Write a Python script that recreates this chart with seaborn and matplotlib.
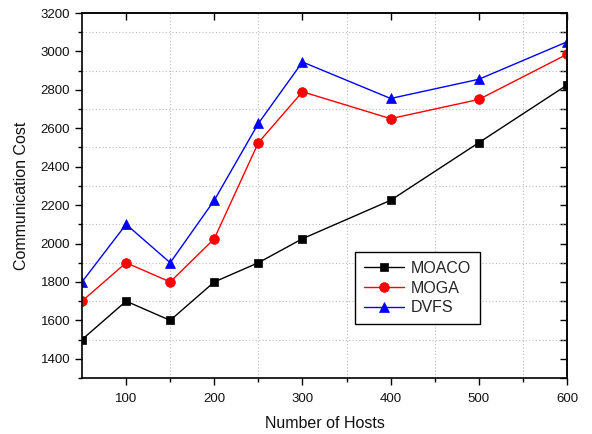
import matplotlib
matplotlib.use("Agg")
import matplotlib.pyplot as plt
from matplotlib.ticker import FixedLocator
import seaborn as sns

# Communication cost versus number of hosts for three schedulers
hosts = [50, 100, 150, 200, 250, 300, 400, 500, 600]
moaco = [1500, 1700, 1600, 1800, 1900, 2025, 2225, 2525, 2825]
moga = [1700, 1900, 1800, 2025, 2525, 2790, 2650, 2750, 2985]
dvfs = [1800, 2100, 1900, 2225, 2625, 2945, 2755, 2855, 3050]

series_names = ["MOACO", "MOGA", "DVFS"]
series_values = [moaco, moga, dvfs]
colors = ["#000000", "#ff0000", "#0000ff"]
markers = ["s", "o", "^"]
marker_sizes = [6.0, 7.0, 7.8]

x_major = [100, 200, 300, 400, 500, 600]
x_minor = [150, 250, 350, 450, 550]
y_major = list(range(1400, 3201, 200))
y_minor = list(range(1300, 3101, 200))

sns.set_theme(style="white")
plt.rcParams["font.family"] = ["Liberation Sans", "DejaVu Sans"]

fig = plt.figure(figsize=(5.92, 4.34), dpi=100)
ax = fig.add_axes([82 / 592, 1 - 378 / 434, 485 / 592, 365 / 434])

for name, vals, col, mk, ms in zip(series_names, series_values, colors, markers, marker_sizes):
    sns.lineplot(x=hosts, y=vals, ax=ax, color=col, marker=mk, markersize=ms,
                 markeredgecolor=col, markeredgewidth=0.5, linewidth=1.0,
                 label=name, legend=False)

ax.set_xlim(50, 600)
ax.set_ylim(1300, 3200)

ax.xaxis.set_major_locator(FixedLocator(x_major))
ax.xaxis.set_minor_locator(FixedLocator(x_minor))
ax.yaxis.set_major_locator(FixedLocator(y_major))
ax.yaxis.set_minor_locator(FixedLocator(y_minor))

ax.grid(False)
ax.grid(which="minor", axis="both", linestyle=(0, (1, 2)), color="#bdbdbd", linewidth=0.8)
ax.set_axisbelow(True)

for sp in ax.spines.values():
    sp.set_color("black")
    sp.set_linewidth(1.2)
    sp.set_visible(True)

ax.tick_params(axis="both", which="major", direction="out", length=5, width=1.0,
               color="black", labelsize=9.5, labelcolor="#111111",
               bottom=True, left=True, top=False, right=False)
ax.tick_params(axis="both", which="minor", direction="out", length=3, width=1.0,
               color="black", bottom=True, left=True, top=False, right=False)
ax.tick_params(axis="x", which="major", pad=6)

# inward ticks on the top and right edges
top = ax.secondary_xaxis("top")
top.xaxis.set_major_locator(FixedLocator(x_major))
top.tick_params(axis="x", which="major", direction="in", length=5, width=1.0,
                color="black", labeltop=False)
top.spines["top"].set_linewidth(1.2)
right = ax.secondary_yaxis("right")
right.yaxis.set_major_locator(FixedLocator(y_major))
right.yaxis.set_minor_locator(FixedLocator(y_minor))
right.tick_params(axis="y", which="both", direction="in", length=5, width=1.0,
                  color="black", labelright=False)
right.spines["right"].set_linewidth(1.2)

ax.set_xlabel("Number of Hosts", fontsize=11.5, color="#111111", labelpad=8)
ax.set_ylabel("Communication Cost", fontsize=11.5, color="#111111", labelpad=8)

leg = ax.legend(loc="upper left", bbox_to_anchor=(0.563, 0.345), borderaxespad=0,
                frameon=True, fancybox=False, shadow=False, fontsize=11.5,
                handlelength=2.5, handletextpad=0.45, labelspacing=0.3,
                borderpad=0.55)
leg.get_frame().set_edgecolor("black")
leg.get_frame().set_linewidth(1.0)
leg.get_frame().set_facecolor("white")
leg.get_frame().set_alpha(1)

fig.savefig("out.png", dpi=100)
